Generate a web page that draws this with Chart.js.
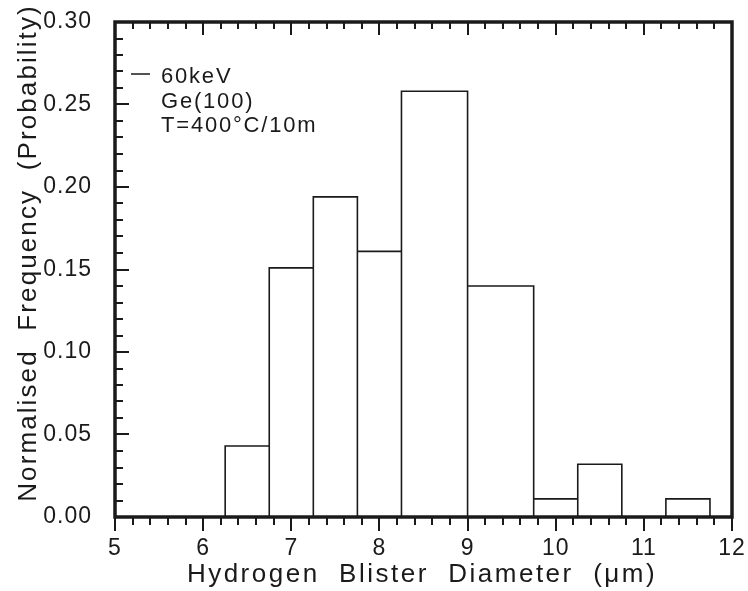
<!DOCTYPE html>
<html lang="en">
<head>
  <meta charset="UTF-8">
  <title>Hydrogen blister diameter</title>
  <script src="https://cdn.jsdelivr.net/npm/chart.js"></script>
  <style>
    * { box-sizing: border-box; }
    body { margin: 0; background: #fff; }
    canvas { display: block; }
  </style>
</head>
<body>
  <canvas id="histChart" width="748" height="591"></canvas>

  <script>
    // bins (um) and normalised frequency for each one
    const binLo = [6.25, 6.75, 7.25, 7.75, 8.25, 9.0, 9.75, 10.25, 11.25];
    const binHi = [6.75, 7.25, 7.75, 8.25, 9.0, 9.75, 10.25, 10.75, 11.75];
    const freq = [0.043, 0.151, 0.194, 0.161, 0.258, 0.140, 0.011, 0.032, 0.011];
    const xTicks = [5, 6, 7, 8, 9, 10, 11, 12];
    const yTicks = [0.00, 0.05, 0.10, 0.15, 0.20, 0.25, 0.30];
    const notes = ['60keV', 'Ge(100)', 'T=400°C/10m'];

    const FONT = '"Liberation Sans", Arial, sans-serif';
    const INK = '#1a1a1a';

    // every bin is traced as its own box: up, across, back down
    const outline = [];
    binLo.forEach((lo, i) => {
      outline.push({ x: lo, y: 0 }, { x: lo, y: freq[i] }, { x: binHi[i], y: freq[i] }, { x: binHi[i], y: 0 });
    });

    function seg(ctx, x1, y1, x2, y2) {
      ctx.beginPath();
      ctx.moveTo(x1, y1);
      ctx.lineTo(x2, y2);
      ctx.stroke();
    }

    // tick labels get a bit of spacing, like the old plotting fonts
    const spacing = {
      id: 'spacing',
      beforeDraw(chart) { chart.ctx.letterSpacing = '1px'; }
    };

    // frame, tick marks, axis titles and the run notes
    const frame = {
      id: 'frame',
      afterDatasetsDraw(chart) {
        const { ctx, chartArea: a, scales: { x, y } } = chart;
        ctx.save();
        ctx.strokeStyle = INK;
        ctx.lineWidth = 2;

        // x: minor every 0.2, bottom ticks point out, top ticks point in
        for (let k = 0; k <= 35; k++) {
          const v = 5 + k * 0.2;
          const px = Math.round(x.getPixelForValue(v));
          const major = k % 5 === 0;
          seg(ctx, px, a.bottom, px, a.bottom + (major ? 14 : 8));
          seg(ctx, px, a.top, px, a.top + (major ? 13 : 7));
        }
        // y: minor every 0.01 on the left side only
        for (let k = 0; k <= 30; k++) {
          const py = Math.round(y.getPixelForValue(k * 0.01));
          const major = k % 5 === 0;
          seg(ctx, a.left, py, a.left + (major ? 14 : 8), py);
        }

        ctx.lineWidth = 3.5;
        ctx.strokeRect(a.left, a.top, a.right - a.left, a.bottom - a.top);

        ctx.fillStyle = INK;
        ctx.font = '26px ' + FONT;
        ctx.letterSpacing = '2.5px';
        ctx.textAlign = 'center';
        ctx.textBaseline = 'middle';
        ctx.fillText('Hydrogen  Blister  Diameter  (\u03bcm)', 422, 575);

        ctx.save();
        ctx.letterSpacing = '2.1px';
        ctx.translate(29, 253);
        ctx.rotate(-Math.PI / 2);
        ctx.fillText('Normalised  Frequency  (Probability)', 0, 0);
        ctx.restore();

        ctx.font = '22px ' + FONT;
        ctx.letterSpacing = '1.8px';
        ctx.textAlign = 'left';
        ctx.textBaseline = 'alphabetic';
        ctx.lineWidth = 1.5;
        seg(ctx, 131, 74, 150, 74);
        notes.forEach((t, i) => ctx.fillText(t, 161, 83 + i * 24.5));
        ctx.restore();
      }
    };

    new Chart(document.getElementById('histChart'), {
      type: 'line',
      data: {
        datasets: [{
          data: outline,
          borderColor: INK,
          borderWidth: 1.6,
          pointRadius: 0,
          tension: 0,
          fill: false
        }]
      },
      options: {
        responsive: false,
        animation: false,
        layout: { padding: { top: 22, right: 16, left: 0, bottom: 0 } },
        plugins: { legend: { display: false }, tooltip: { enabled: false } },
        scales: {
          x: {
            type: 'linear',
            min: 5,
            max: 12,
            afterBuildTicks: s => { s.ticks = xTicks.map(v => ({ value: v })); },
            afterFit: s => { s.height = 74; s.paddingLeft = 0; s.paddingRight = 0; },
            grid: { display: false },
            border: { display: false },
            ticks: {
              color: INK,
              padding: 10,
              font: { family: FONT, size: 23 },
              maxRotation: 0,
              callback: v => String(v)
            }
          },
          y: {
            min: 0,
            max: 0.30,
            afterBuildTicks: s => { s.ticks = yTicks.map(v => ({ value: v })); },
            afterFit: s => { s.width = 115; s.paddingTop = 0; s.paddingBottom = 0; },
            grid: { display: false },
            border: { display: false },
            ticks: {
              color: INK,
              padding: 15,
              font: { family: FONT, size: 23 },
              callback: v => v.toFixed(2)
            }
          }
        }
      },
      plugins: [spacing, frame]
    });
  </script>
</body>
</html>
